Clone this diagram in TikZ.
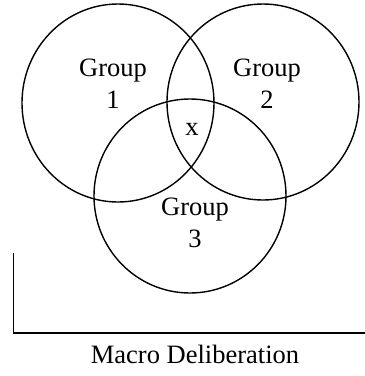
\documentclass[tikz,border=0pt]{standalone}
\usepackage{fontspec}
\setmainfont{Liberation Serif}
\usetikzlibrary{positioning,calc}

\begin{document}
\begin{tikzpicture}[x=1pt,y=-1pt,
        line width=1.4pt,
        every node/.style={font=\fontsize{26.5}{31.5}\selectfont, inner sep=0pt},
        grp/.style={align=center, anchor=base}]

        \useasboundingbox (0,0) rectangle (365,376);

        %% the three groups
        \coordinate (grp_c1) at (118,103);
        \coordinate (grp_c2) at (263,102);
        \coordinate (grp_c3) at (190,196);
        \foreach \a/\ry in {1/99,2/98,3/97} {
          \draw (grp_c\a) ellipse [x radius=96, y radius=\ry];
        }

        \node [grp] (grp_lbl_1) at (113,108) {Group\\1};
        \node [grp] (grp_lbl_2) at (267,108) {Group\\2};
        \node [grp] (grp_lbl_3) at (195,247) {Group\\3};
        \node [grp] (grp_mid) at (192,135) {x};

        %% axis
        \coordinate (ax_top) at (13.5,253);
        \coordinate (ax_end) at (365,333);
        \draw (ax_top) |- (ax_end);
        \node [anchor=base] (ax_lbl) at (195,363) {Macro Deliberation};

      \end{tikzpicture}
\end{document}
